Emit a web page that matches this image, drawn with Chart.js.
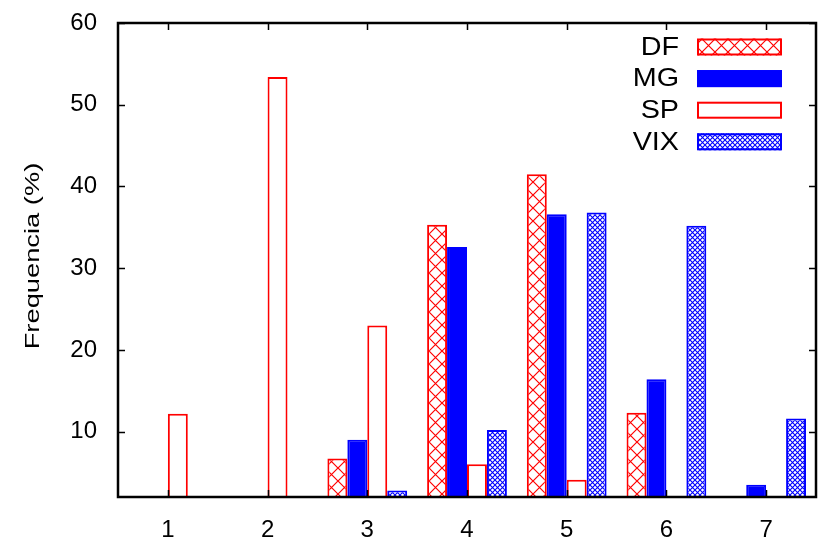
<!DOCTYPE html>
<html>
<head>
<meta charset="utf-8">
<script src="https://cdn.jsdelivr.net/npm/chart.js@4"></script>
<style>
  html, body { margin: 0; padding: 0; background: #fff; }
  #wrap { width: 821px; height: 541px; }
</style>
</head>
<body>
<div id="wrap"><canvas id="freqChart" width="821" height="541"></canvas></div>
<script>
// --- Data ---
const categories = ['1', '2', '3', '4', '5', '6', '7'];
const seriesNames = ['DF', 'MG', 'SP', 'VIX'];
const dfValues  = [0, 0, 6.7, 35.3, 41.5, 12.3, 0];
const mgValues  = [0, 0, 9.0, 32.6, 36.6, 16.4, 3.5];
const spValues  = [12.2, 53.4, 23.0, 6.0, 4.1, 0, 0];
const vixValues = [0, 0, 2.8, 10.2, 36.8, 35.2, 11.6];
const yTicks = [10, 20, 30, 40, 50, 60];
const yTitle = 'Frequencia (%)';

const RED = '#ff0000';
const BLUE = '#0000ff';
const FONT = '"Liberation Sans", Arial, Helvetica, sans-serif';

// crosshatch fill: white tile with both diagonals
function hatch(color, size, width) {
  const c = document.createElement('canvas');
  c.width = size; c.height = size;
  const g = c.getContext('2d');
  g.fillStyle = '#fff';
  g.fillRect(0, 0, size, size);
  g.strokeStyle = color;
  g.lineWidth = width;
  g.beginPath();
  g.moveTo(-1, -1); g.lineTo(size + 1, size + 1);
  g.moveTo(size + 1, -1); g.lineTo(-1, size + 1);
  g.stroke();
  return g.createPattern(c, 'repeat');
}

const ctx = document.getElementById('freqChart').getContext('2d');
const dfFill = hatch(RED, 13, 1.2);
const vixFill = hatch(BLUE, 5, 1.1);

// axis frame, inward ticks, y title and key, drawn over the bars
const framePlugin = {
  id: 'frame',
  afterDraw(chart) {
    const { ctx: c, chartArea: a, scales } = chart;
    const x = scales.x, y = scales.y;
    c.save();
    c.strokeStyle = '#000';
    c.lineWidth = 1.5;
    c.beginPath();
    const tl = 7;
    yTicks.forEach(v => {
      const py = Math.round(y.getPixelForValue(v)) + 0.5;
      c.moveTo(a.left, py); c.lineTo(a.left + tl, py);
      c.moveTo(a.right, py); c.lineTo(a.right - tl, py);
    });
    categories.forEach((_, i) => {
      const px = Math.round(x.getPixelForTick(i)) + 0.5;
      c.moveTo(px, a.bottom); c.lineTo(px, a.bottom - tl);
      c.moveTo(px, a.top); c.lineTo(px, a.top + tl);
    });
    c.stroke();
    c.lineWidth = 2.5;
    c.strokeRect(a.left, a.top, a.right - a.left, a.bottom - a.top);

    // rotated y title, a little wide like the postscript font
    c.save();
    c.translate(33, (a.top + a.bottom) / 2 - 4);
    c.rotate(-Math.PI / 2);
    c.scale(1.3, 1);
    c.font = '21px ' + FONT;
    c.fillStyle = '#000';
    c.textAlign = 'center';
    c.textBaseline = 'middle';
    c.fillText(yTitle, 0, 0);
    c.restore();

    // key
    chart.data.datasets.forEach((ds, i) => {
      const cy = 47 + i * 31.6;
      c.save();
      c.translate(679, cy + 1);
      c.scale(1.15, 1);
      c.font = '25px ' + FONT;
      c.textAlign = 'right';
      c.textBaseline = 'middle';
      c.fillStyle = '#000';
      c.fillText(ds.label, 0, 0);
      c.restore();
      c.fillStyle = ds.backgroundColor;
      c.fillRect(697, cy - 8.5, 85, 17);
      c.strokeStyle = ds.borderColor;
      c.lineWidth = 2;
      c.strokeRect(698, cy - 7.5, 83, 15);
    });
    c.restore();
  }
};

const makeSet = (label, data, fill, border) => ({
  label, data,
  backgroundColor: fill,
  borderColor: border,
  borderWidth: 2,
  borderSkipped: 'start',
  categoryPercentage: 0.8,
  barPercentage: 1.0
});

new Chart(ctx, {
  type: 'bar',
  data: {
    labels: categories,
    datasets: [
      makeSet(seriesNames[0], dfValues, dfFill, RED),
      makeSet(seriesNames[1], mgValues, BLUE, BLUE),
      makeSet(seriesNames[2], spValues, '#ffffff', RED),
      makeSet(seriesNames[3], vixValues, vixFill, BLUE)
    ]
  },
  options: {
    responsive: false,
    animation: false,
    layout: { padding: { left: 0, right: 5, top: 23, bottom: 0 } },
    plugins: {
      legend: { display: false },
      tooltip: { enabled: false }
    },
    scales: {
      x: {
        type: 'category',
        offset: true,
        grid: { display: false, drawTicks: false },
        border: { display: false },
        ticks: { color: '#000', font: { family: FONT, size: 24 }, padding: 19 },
        afterFit(scale) {
          scale.height = 44;
          scale.paddingLeft = 0; scale.paddingRight = 0;
        }
      },
      y: {
        min: 2,
        max: 60,
        grid: { display: false, drawTicks: false },
        border: { display: false },
        afterBuildTicks(scale) { scale.ticks = yTicks.map(v => ({ value: v })); },
        ticks: { color: '#000', font: { family: FONT, size: 24 }, padding: 21 },
        afterFit(scale) {
          scale.width = 118;
          scale.paddingTop = 0; scale.paddingBottom = 0;
        }
      }
    }
  },
  plugins: [framePlugin]
});
</script>
</body>
</html>
